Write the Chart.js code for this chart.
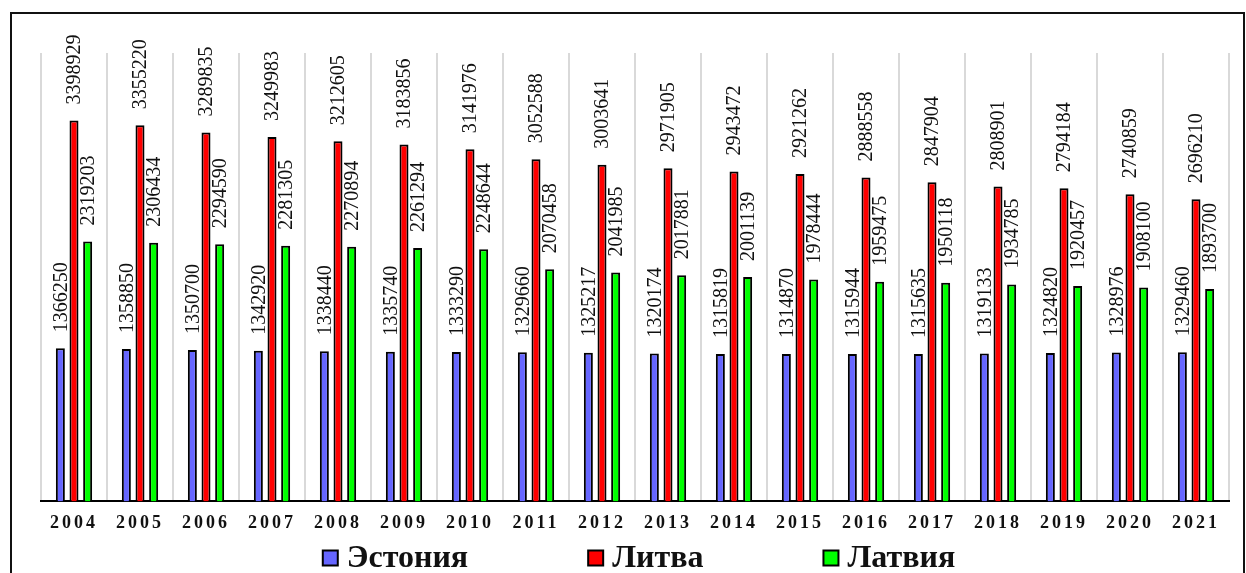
<!DOCTYPE html>
<html>
<head>
<meta charset="utf-8">
<script src="https://cdn.jsdelivr.net/npm/chart.js@4/dist/chart.umd.min.js"></script>
<style>
  html, body { margin: 0; padding: 0; background: #fff; overflow: hidden; }
  #wrap { position: absolute; left: 0; top: 0; width: 1246px; height: 573px; }
  #frame { position: absolute; left: 10px; top: 12px; width: 1231px; height: 600px;
           border: 2px solid #111; pointer-events: none; }
</style>
</head>
<body>
<div id="wrap"><canvas id="chart"></canvas></div>
<div id="frame"></div>
<script>
const years = ['2004', '2005', '2006', '2007', '2008', '2009', '2010', '2011', '2012',
  '2013', '2014', '2015', '2016', '2017', '2018', '2019', '2020', '2021'];

const estonia = [1366250, 1358850, 1350700, 1342920, 1338440, 1335740, 1333290, 1329660, 1325217,
  1320174, 1315819, 1314870, 1315944, 1315635, 1319133, 1324820, 1328976, 1329460];
const lithuania = [3398929, 3355220, 3289835, 3249983, 3212605, 3183856, 3141976, 3052588, 3003641,
  2971905, 2943472, 2921262, 2888558, 2847904, 2808901, 2794184, 2740859, 2696210];
const latvia = [2319203, 2306434, 2294590, 2281305, 2270894, 2261294, 2248644, 2070458, 2041985,
  2017881, 2001139, 1978444, 1959475, 1950118, 1934785, 1920457, 1908100, 1893700];

// value labels written upright above each bar
const barLabels = {
  id: 'barLabels',
  beforeDraw(chart) {
    chart.ctx.letterSpacing = '3px';   // spaced year ticks
  },
  beforeDatasetsDraw(chart) {
    chart.ctx.letterSpacing = '0px';
  },
  afterDatasetsDraw(chart) {
    const ctx = chart.ctx;
    ctx.save();
    ctx.font = '20px "Liberation Serif", "Times New Roman", serif';
    ctx.fillStyle = '#111';
    ctx.textAlign = 'left';
    ctx.textBaseline = 'middle';
    chart.data.datasets.forEach((ds, i) => {
      chart.getDatasetMeta(i).data.forEach((bar, j) => {
        ctx.save();
        ctx.translate(bar.x + 1, bar.y - 16);
        ctx.rotate(-Math.PI / 2);
        ctx.fillText(String(ds.data[j]), 0, 0);
        ctx.restore();
      });
    });
    ctx.restore();
  },
  afterDraw(chart) {
    // legend row under the years
    const ctx = chart.ctx;
    const gap = 120, box = 15, textGap = 9;
    ctx.save();
    ctx.font = 'bold 32px "Liberation Serif", "Times New Roman", serif';
    ctx.textBaseline = 'middle';
    ctx.textAlign = 'left';
    const items = chart.data.datasets.map(ds => ({
      ds, w: box + textGap + ctx.measureText(ds.label).width
    }));
    const total = items.reduce((s, it) => s + it.w, 0) + gap * (items.length - 1);
    let x = 639 - total / 2;
    const y = 558;
    items.forEach(it => {
      ctx.fillStyle = it.ds.backgroundColor;
      ctx.fillRect(x, y - box / 2, box, box);
      ctx.lineWidth = 2;
      ctx.strokeStyle = '#000';
      ctx.strokeRect(x, y - box / 2, box, box);
      ctx.fillStyle = '#111';
      ctx.fillText(it.ds.label, x + box + textGap, y + 1);
      x += it.w + gap;
    });
    ctx.restore();
  }
};

new Chart(document.getElementById('chart'), {
  type: 'bar',
  data: {
    labels: years,
    datasets: [{
      label: 'Эстония',
      data: estonia,
      backgroundColor: '#6666ff',
      borderColor: '#000',
      borderWidth: 2
    }, {
      label: 'Литва',
      data: lithuania,
      backgroundColor: '#ff0000',
      borderColor: '#000',
      borderWidth: 2
    }, {
      label: 'Латвия',
      data: latvia,
      backgroundColor: '#00ff00',
      borderColor: '#000',
      borderWidth: 2
    }]
  },
  options: {
    responsive: true,
    maintainAspectRatio: false,
    animation: false,
    categoryPercentage: 0.62,
    barPercentage: 0.66,
    layout: {
      padding: { left: 41, right: 17, top: 53, bottom: 28 }
    },
    plugins: {
      legend: { display: false },
      tooltip: { enabled: false }
    },
    scales: {
      x: {
        grid: { color: '#d9d9d9', lineWidth: 2, drawTicks: false },
        border: { color: '#000', width: 2 },
        ticks: {
          color: '#111',
          padding: 11,
          font: { family: '"Liberation Serif", "Times New Roman", serif', size: 18, weight: 'bold' }
        }
      },
      y: {
        display: false,
        min: 0,
        max: 4000000
      }
    }
  },
  plugins: [barLabels]
});
</script>
</body>
</html>
